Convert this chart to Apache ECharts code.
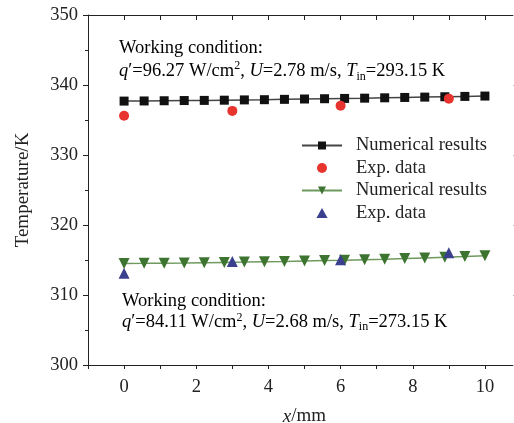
<!DOCTYPE html>
<html>
<head>
<meta charset="utf-8">
<script src="https://cdn.jsdelivr.net/npm/echarts@6/dist/echarts.min.js"></script>
<style>
  html, body { margin: 0; padding: 0; background: #fff; }
  #chart { width: 514px; height: 423px; }
</style>
</head>
<body>
<div id="chart"></div>
<script>
  // positions along x (mm)
  var xNum = [];
  for (var i = 0; i <= 18; i++) xNum.push(+(i * 10 / 18).toFixed(4));
  var xExp = [0, 3, 6, 9];

  // case 1: q'=96.27
  var numHigh = [337.70, 337.72, 337.75, 337.78, 337.80, 337.83, 337.87, 337.90, 337.95, 338.00,
                 338.04, 338.08, 338.12, 338.17, 338.22, 338.27, 338.32, 338.37, 338.42];
  var expHigh = [335.6, 336.3, 337.05, 338.05];

  // case 2: q'=84.11
  var numLow = [314.50, 314.52, 314.55, 314.58, 314.62, 314.66, 314.70, 314.75, 314.80, 314.86,
                314.92, 314.98, 315.05, 315.12, 315.20, 315.30, 315.40, 315.50, 315.62];
  var expLow = [313.1, 314.8, 315.05, 316.05];

  var yTicks = [300, 310, 320, 330, 340, 350];

  function pairs(xs, ys) {
    return xs.map(function (x, k) { return [x, ys[k]]; });
  }

  var serif = '"Liberation Serif", "DejaVu Serif", serif';
  var fs = 18.5;

  var chart = echarts.init(document.getElementById('chart'));

  var rich = {
    n: { fontFamily: serif, fontSize: fs, color: '#222' },
    i: { fontFamily: serif, fontSize: fs, color: '#222', fontStyle: 'italic' },
    sup: { fontFamily: serif, fontSize: 12, color: '#222', verticalAlign: 'top' },
    sub: { fontFamily: serif, fontSize: 12, color: '#222', verticalAlign: 'bottom' }
  };

  var option = {
    backgroundColor: '#fff',
    animation: false,
    grid: { left: 88, top: 15, right: -7, bottom: 58, outerBoundsMode: 'none', containLabel: false },
    legend: {
      orient: 'vertical',
      left: 301,
      top: 136,
      padding: 0,
      itemWidth: 40,
      itemHeight: 10,
      itemGap: 3.5,
      textStyle: { fontFamily: serif, fontSize: fs, color: '#222', padding: [0, 0, 0, 9] },
      data: [
        { name: 'Numerical results' },
        { name: 'Exp. data' },
        { name: 'Numerical results ' },
        { name: 'Exp. data ', icon: 'path://M5,0 L10,9 L0,9 Z' }
      ]
    },
    xAxis: [{
      type: 'value',
      min: -1,
      max: 11,
      interval: 1,
      name: '{i|x}{n|/mm}',
      nameLocation: 'middle',
      nameGap: 42,
      nameTextStyle: { rich: {
        i: { fontFamily: serif, fontSize: 19, fontStyle: 'italic', color: '#222' },
        n: { fontFamily: serif, fontSize: 19, color: '#222' }
      } },
      axisLine: { onZero: false, lineStyle: { color: '#222', width: 1 } },
      axisTick: { inside: false, length: 4, lineStyle: { color: '#222' } },
      splitLine: { show: false },
      axisLabel: {
        fontFamily: serif, fontSize: fs, color: '#222', margin: 13,
        formatter: function (v) { return (v % 2 === 0 && v >= 0 && v <= 10) ? String(v) : ''; }
      }
    }, {
      type: 'value',
      position: 'top',
      min: -1,
      max: 11,
      interval: 1,
      axisLine: { onZero: false, lineStyle: { color: '#222', width: 1 } },
      axisTick: { inside: true, length: 5, lineStyle: { color: '#222' } },
      axisLabel: { show: false },
      splitLine: { show: false }
    }],
    yAxis: [{
      type: 'value',
      min: 300,
      max: 350,
      interval: 10,
      name: 'Temperature/K',
      nameLocation: 'middle',
      nameGap: 55,
      nameTextStyle: { fontFamily: serif, fontSize: 19, color: '#222' },
      axisLine: { show: true, onZero: false, lineStyle: { color: '#222', width: 1 } },
      axisTick: { inside: false, length: 5, lineStyle: { color: '#222' } },
      minorTick: { show: true, splitNumber: 2, length: 3, lineStyle: { color: '#222' } },
      splitLine: { show: false },
      axisLabel: {
        fontFamily: serif, fontSize: fs, color: '#222', margin: 10,
        formatter: function (v) { return yTicks.indexOf(v) >= 0 ? String(v) : ''; }
      }
    }, {
      type: 'value',
      position: 'right',
      min: 300,
      max: 350,
      interval: 10,
      axisLine: { show: true, onZero: false, lineStyle: { color: '#222', width: 1 } },
      axisTick: { inside: true, length: 8, lineStyle: { color: '#bbb' } },
      axisLabel: { show: false },
      splitLine: { show: false }
    }],
    series: [{
      name: 'Numerical results',
      type: 'line',
      data: pairs(xNum, numHigh),
      symbol: 'rect',
      symbolSize: 9,
      lineStyle: { color: '#444', width: 1.5 },
      itemStyle: { color: '#111' },
      z: 3
    }, {
      name: 'Exp. data',
      type: 'scatter',
      data: pairs(xExp, expHigh),
      symbol: 'circle',
      symbolSize: 10,
      itemStyle: { color: '#e8342f', opacity: 1 },
      z: 4
    }, {
      name: 'Numerical results ',
      type: 'line',
      data: pairs(xNum, numLow),
      symbol: 'triangle',
      symbolRotate: 180,
      symbolSize: 11,
      lineStyle: { color: '#6e9a5e', width: 1.5 },
      itemStyle: { color: '#3d7430' },
      z: 3
    }, {
      name: 'Exp. data ',
      type: 'scatter',
      data: pairs(xExp, expLow),
      symbol: 'triangle',
      symbolSize: 11,
      itemStyle: { color: '#3a3f8e', opacity: 1 },
      z: 4
    }],
    graphic: [{
      type: 'text',
      left: 119,
      top: 37,
      style: {
        text: '{n|Working condition:}\n{i|q}{n|′=96.27 W/cm}{sup|2}{n|, }{i|U}{n|=2.78 m/s, }{i|T}{sub|in}{n|=293.15 K}',
        rich: rich,
        lineHeight: 23
      }
    }, {
      type: 'text',
      left: 122,
      top: 291,
      style: {
        text: '{n|Working condition:}\n{i|q}{n|′=84.11 W/cm}{sup|2}{n|, }{i|U}{n|=2.68 m/s, }{i|T}{sub|in}{n|=273.15 K}',
        rich: rich,
        lineHeight: 21
      }
    }]
  };

  chart.setOption(option);
</script>
</body>
</html>
